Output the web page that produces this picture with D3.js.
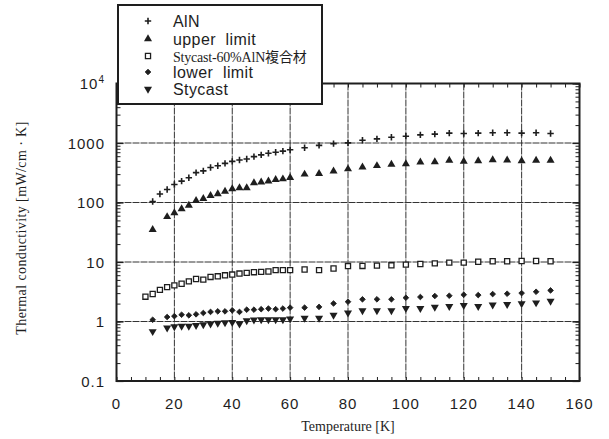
<!DOCTYPE html>
<html>
<head>
<meta charset="utf-8">
<script src="https://cdn.jsdelivr.net/npm/d3@7"></script>
<style>
  html, body { margin: 0; padding: 0; background: #ffffff; }
  svg { display: block; }
</style>
</head>
<body>
<svg id="chart" width="609" height="439"></svg>
<script>
// ---------- data ----------
const tempsAlN = [12.5,15,17.5,20,22.5,25,27.5,30,32.5,35,37.5,40,42.5,45,47.5,50,52.5,55,57.5,60,
                  65,70,75,80,85,90,95,100,105,110,115,120,125,130,135,140,145,150];
const valuesAlN = [104,139,165,201,229,261,318,340,388,414,454,491,518,539,591,631,674,701,729,769,
                   832,912,975,1005,1111,1171,1250,1301,1371,1408,1465,1445,1465,1484,1484,1465,1484,1445];

const tempsLimits = [12.5,17.5,20,22.5,25,27.5,30,32.5,35,37.5,40,42.5,45,47.5,50,52.5,55,57.5,60,
                     65,70,75,80,85,90,95,100,105,110,115,120,125,130,135,140,145,150];
const valuesUpper = [35,57.5,67,78,89,107,116,130,139,154,169,176,176,214,220,229,242,248,261,
                     298,306,336,365,393,414,436,447,476,482,508,489,501,521,514,501,508,508];
const valuesLower = [1.07,1.19,1.23,1.30,1.27,1.32,1.39,1.45,1.48,1.48,1.54,1.45,1.58,1.58,1.61,1.65,1.61,1.65,1.71,
                     1.71,1.76,2.01,2.15,2.36,2.36,2.36,2.51,2.58,2.68,2.71,2.82,2.78,2.89,2.93,3.0,3.16,3.33];
const valuesStycast = [0.68,0.78,0.82,0.84,0.84,0.865,0.89,0.91,0.94,0.96,0.97,0.91,1.04,1.07,1.08,1.08,1.08,1.08,1.11,
                       1.14,1.14,1.28,1.40,1.52,1.52,1.52,1.67,1.67,1.75,1.80,1.87,1.80,1.90,1.94,2.0,2.07,2.21];

const tempsComposite = [10,12.5,15,17.5,20,22.5,25,27.5,30,32.5,35,37.5,40,42.5,45,47.5,50,52.5,55,57.5,60,
                        65,70,75,80,85,90,95,100,105,110,115,120,125,130,135,140,145,150];
const valuesComposite = [2.61,2.9,3.4,3.78,4.04,4.31,4.72,5.18,5.05,5.61,5.75,5.98,6.15,6.4,6.56,6.74,6.83,6.92,7.29,7.29,7.29,
                         7.48,7.29,7.78,8.55,8.58,8.69,8.8,9.03,9.26,9.5,9.75,9.75,10.1,10.3,10.3,10.4,10.4,10.3];

const xTicks = [0,20,40,60,80,100,120,140,160];
const yTicks = [0.1,1,10,100,1000,10000];
const yTickLabels = ["0.1","1","10","100","1000","10^4"];
const legendLabels = ["AlN","upper  limit","Stycast-60%AlN複合材","lower  limit","Stycast"];

const xTitle = "Temperature [K]";
const yTitle = "Thermal conductivity [mW/cm · K]";

// ---------- layout ----------
const svg = d3.select("#chart");
const ink = "#1e1e1e";
const L = 116.5, R = 579.5, T = 83.5, B = 381;

const x = d3.scaleLinear().domain([0,160]).range([L,R]);
const y = d3.scaleLog().domain([0.1,10000]).range([B,T]);

svg.append("rect").attr("width",609).attr("height",439).attr("fill","#ffffff");

// grid
const g = svg.append("g");
g.selectAll(".vg").data(xTicks.slice(1,-1)).join("line")
  .attr("x1",d=>x(d)).attr("x2",d=>x(d)).attr("y1",T).attr("y2",B)
  .attr("stroke","#333").attr("stroke-width",1).attr("stroke-dasharray","7,1");
g.selectAll(".hg").data(yTicks.slice(1,-1)).join("line")
  .attr("x1",L).attr("x2",R).attr("y1",d=>y(d)).attr("y2",d=>y(d))
  .attr("stroke","#333").attr("stroke-width",1).attr("stroke-dasharray","7,1");

// minor ticks (inward) via axis generators
const xMinor = d3.range(0,161,5);
const yMinor = y.ticks();
svg.append("g").attr("transform",`translate(0,${B})`)
  .call(d3.axisTop(x).tickValues(xMinor).tickSize(4).tickFormat(""))
  .call(a=>a.select(".domain").remove()).selectAll("line").attr("stroke",ink);
svg.append("g").attr("transform",`translate(0,${T})`)
  .call(d3.axisBottom(x).tickValues(xMinor).tickSize(4).tickFormat(""))
  .call(a=>a.select(".domain").remove()).selectAll("line").attr("stroke",ink);
svg.append("g").attr("transform",`translate(${L},0)`)
  .call(d3.axisRight(y).tickValues(yMinor).tickSize(4).tickFormat(""))
  .call(a=>a.select(".domain").remove()).selectAll("line").attr("stroke",ink);
svg.append("g").attr("transform",`translate(${R},0)`)
  .call(d3.axisLeft(y).tickValues(yMinor).tickSize(4).tickFormat(""))
  .call(a=>a.select(".domain").remove()).selectAll("line").attr("stroke",ink);
// major ticks longer
svg.append("g").attr("transform",`translate(${L},0)`)
  .call(d3.axisRight(y).tickValues(yTicks).tickSize(7).tickFormat(""))
  .call(a=>a.select(".domain").remove()).selectAll("line").attr("stroke",ink).attr("stroke-width",1.2);
svg.append("g").attr("transform",`translate(${R},0)`)
  .call(d3.axisLeft(y).tickValues(yTicks).tickSize(7).tickFormat(""))
  .call(a=>a.select(".domain").remove()).selectAll("line").attr("stroke",ink).attr("stroke-width",1.2);

// frame
svg.append("rect").attr("x",L).attr("y",T).attr("width",R-L).attr("height",B-T)
  .attr("fill","none").attr("stroke",ink).attr("stroke-width",2);

// tick labels
const tickFont = "'Liberation Sans', Arial, sans-serif";
svg.append("g").selectAll("text").data(xTicks).join("text")
  .attr("x",d=>x(d)).attr("y",B+28).attr("text-anchor","middle")
  .attr("font-family",tickFont).attr("font-size",15).attr("letter-spacing",1).attr("fill",ink)
  .text(d=>d);
const yl = svg.append("g").selectAll("text").data(yTicks).join("text")
  .attr("x",105).attr("y",d=>y(d)+5.5).attr("text-anchor","end")
  .attr("font-family",tickFont).attr("font-size",15).attr("letter-spacing",1).attr("fill",ink);
yl.each(function(d,i){
  const t = d3.select(this), lab = yTickLabels[i];
  if (lab.includes("^")) {
    const [b,e] = lab.split("^");
    t.append("tspan").text(b);
    t.append("tspan").attr("dy",-6).attr("font-size",10).text(e);
  } else t.text(lab);
});

// axis titles
const serif = "'Liberation Serif', 'Times New Roman', serif";
svg.append("text").attr("x",(L+R)/2).attr("y",431).attr("text-anchor","middle")
  .attr("font-family",serif).attr("font-size",14).attr("fill",ink).text(xTitle);
svg.append("text").attr("transform","translate(26,228) rotate(-90)").attr("text-anchor","middle")
  .attr("font-family",serif).attr("font-size",14).attr("letter-spacing",0.4).attr("fill",ink).text(yTitle);

// markers
function plusPath(s){ return `M${-s},0H${s}M0,${-s}V${s}`; }
const sym = {
  plus: {draw: (sel)=>sel.attr("d",plusPath(3.2)).attr("fill","none").attr("stroke",ink).attr("stroke-width",1.6)},
  up:   {draw: (sel)=>sel.attr("d",d3.symbol(d3.symbolTriangle,28)()).attr("fill",ink)},
  square:{draw: (sel)=>sel.attr("d",d3.symbol(d3.symbolSquare,26)()).attr("fill","#fff").attr("stroke",ink).attr("stroke-width",1.3)},
  diamond:{draw: (sel)=>sel.attr("d",d3.symbol(d3.symbolSquare,16)()).attr("fill",ink).attr("stroke",ink).attr("stroke-width",0.8), rot:45},
  down: {draw: (sel)=>sel.attr("d",d3.symbol(d3.symbolTriangle,28)()).attr("fill",ink), rot:180}
};
const series = [
  {t: tempsAlN, v: valuesAlN, m: "plus"},
  {t: tempsLimits, v: valuesUpper, m: "up"},
  {t: tempsComposite, v: valuesComposite, m: "square"},
  {t: tempsLimits, v: valuesLower, m: "diamond"},
  {t: tempsLimits, v: valuesStycast, m: "down"}
];
series.forEach(s=>{
  const pts = s.t.map((tt,i)=>({t:tt, v:s.v[i]}));
  const rot = sym[s.m].rot ? ` rotate(${sym[s.m].rot})` : "";
  const sel = svg.append("g").selectAll("path").data(pts).join("path")
    .attr("transform",d=>`translate(${x(d.t)},${y(d.v)})${rot}`);
  sym[s.m].draw(sel);
});

// legend
const lg = svg.append("g");
lg.append("rect").attr("x",118).attr("y",5).attr("width",204).attr("height",99)
  .attr("fill","#fff").attr("stroke",ink).attr("stroke-width",2);
const rowsY = [21,39,56,72,89];
series.forEach((s,i)=>{
  const rot = sym[s.m].rot ? ` rotate(${sym[s.m].rot})` : "";
  const sel = lg.append("path")
    .attr("transform",`translate(148,${rowsY[i]})${rot}`);
  sym[s.m].draw(sel);
  const t = lg.append("text").attr("x",173).attr("y",rowsY[i]+5.5).attr("fill",ink)
    .style("white-space","pre");
  if (i===2) {
    t.attr("font-family","'Liberation Serif', 'Noto Sans CJK JP', serif").attr("font-size",14)
     .attr("letter-spacing",-0.2).text(legendLabels[i]);
  } else {
    t.attr("font-family",tickFont).attr("font-size",16).attr("letter-spacing",0.4).text(legendLabels[i]);
  }
});
</script>
</body>
</html>
